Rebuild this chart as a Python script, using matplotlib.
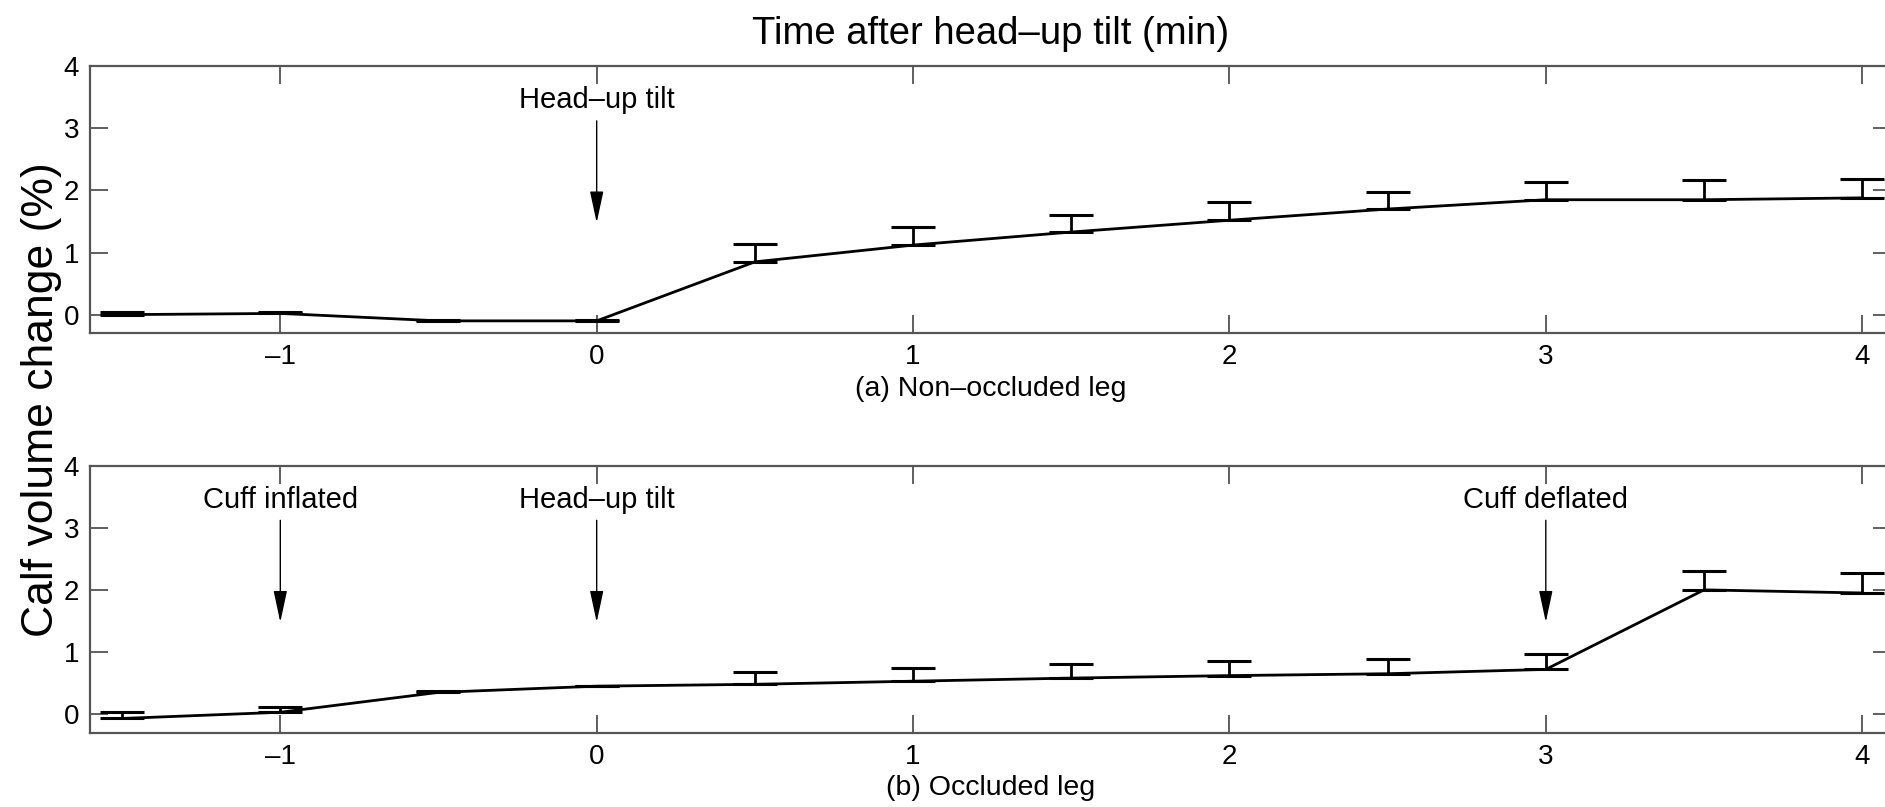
import numpy as np
import matplotlib
matplotlib.use("Agg")
import matplotlib.pyplot as plt

plt.rcParams['font.family'] = ['Liberation Sans Narrow', 'Liberation Sans', 'DejaVu Sans']

# time after head-up tilt (min)
t = [-1.5, -1, -0.5, 0, 0.5, 1, 1.5, 2, 2.5, 3, 3.5, 4]

# (a) non-occluded leg
mean_a = [0.0, 0.02, -0.10, -0.10, 0.85, 1.12, 1.33, 1.52, 1.70, 1.85, 1.85, 1.88]
err_a = [0.04, 0.03, 0.01, 0.01, 0.28, 0.29, 0.28, 0.30, 0.28, 0.29, 0.31, 0.31]

# (b) occluded leg
mean_b = [-0.07, 0.03, 0.35, 0.45, 0.48, 0.53, 0.58, 0.62, 0.65, 0.72, 2.00, 1.95]
err_b = [0.11, 0.08, 0.02, 0.01, 0.20, 0.22, 0.23, 0.23, 0.23, 0.25, 0.30, 0.32]

xticks = [-1, 0, 1, 2, 3, 4]
yticks = [0, 1, 2, 3, 4]

events_a = [(0, 'Head\u2013up tilt')]
events_b = [(-1, 'Cuff inflated'), (0, 'Head\u2013up tilt'), (3, 'Cuff deflated')]

fig = plt.figure(figsize=(18.85, 8.07), dpi=100)
ax1 = fig.add_axes([0.048, 0.587, 0.955, 0.331])
ax2 = fig.add_axes([0.048, 0.092, 0.955, 0.331])


def draw_panel(ax, mean, err, events, caption):
    lower = np.zeros(len(err))
    ax.errorbar(t, mean, yerr=[lower, err], color='black', lw=2.0,
                elinewidth=2.0, capsize=16, capthick=2.2)
    ax.set_xlim(-1.6, 4.09)
    ax.set_ylim(-0.3, 4)
    ax.set_xticks(xticks)
    ax.set_xticklabels([str(v).replace('-', '\u2013') for v in xticks])
    ax.set_yticks(yticks)
    ax.tick_params(direction='in', length=13, width=1.2, color='#444444',
                   top=True, right=True, labelsize=20, pad=8)
    for s in ax.spines.values():
        s.set_color('#555555')
        s.set_linewidth(1.6)
    for x, label in events:
        ax.text(x, 3.45, label, ha='center', va='center', fontsize=21)
        ax.annotate('', xy=(x, 1.48), xytext=(x, 3.12),
                    arrowprops=dict(arrowstyle='-|>,head_length=1.4,head_width=0.3',
                                    color='black', lw=1.0, shrinkA=0, shrinkB=0,
                                    mutation_scale=14))
    ax.set_xlabel(caption, fontsize=20.5, labelpad=4)


draw_panel(ax1, mean_a, err_a, events_a, '(a) Non\u2013occluded leg')
draw_panel(ax2, mean_b, err_b, events_b, '(b) Occluded leg')

ax1.set_title('Time after head\u2013up tilt (min)', fontsize=27.5, pad=16)
fig.text(0.022, 0.505, 'Calf volume change (%)', rotation=90, ha='center',
         va='center', fontsize=32, family=['Liberation Sans', 'DejaVu Sans'])

fig.savefig('out.png', dpi=100)
